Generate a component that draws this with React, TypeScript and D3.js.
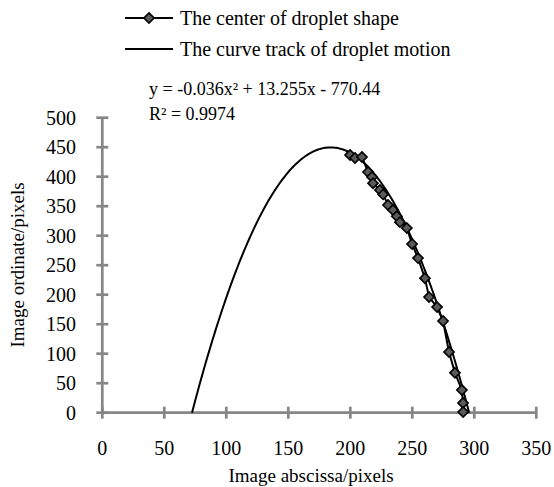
import React, { useEffect, useRef } from 'react'
import * as d3 from 'd3'

// droplet centre positions (image px)
const centerX = [199.8, 203.8, 209.4, 214.3, 217.5, 218.3, 223.9, 226.5, 230.4, 234.4, 237.5, 240, 245.6, 249.8, 254.6, 260.2, 263.5, 270, 274.8, 279.6, 284.4, 290, 290.9, 291]
const centerY = [436.8, 431.7, 433.4, 408, 399.5, 389, 377.5, 370, 352, 343.6, 333, 323, 313, 285.9, 262, 228, 196, 179, 155.4, 103, 67.6, 38.5, 16.4, 1.2]

// fitted trend: y = a x^2 + b x + c
const fitA = -0.036
const fitB = 13.255
const fitC = -770.44

const xTicks = [0, 50, 100, 150, 200, 250, 300, 350]
const yTicks = [0, 50, 100, 150, 200, 250, 300, 350, 400, 450, 500]

const legendLabels = ['The center of droplet shape', 'The curve track of droplet motion']
const equationText = 'y = -0.036x² + 13.255x - 770.44'
const r2Text = 'R² = 0.9974'

const App = () => {
  const ref = useRef<SVGSVGElement>(null)

  useEffect(() => {
    const svg = d3.select(ref.current)
    svg.selectAll('*').remove()
    const font = '"Liberation Serif", "Times New Roman", serif'

    const x = d3.scaleLinear().domain([0, 350]).range([102.3, 536.3])
    const y = d3.scaleLinear().domain([0, 500]).range([412.7, 117.7])

    const axisColor = '#868686'

    // axes
    svg.append('line').attr('x1', x(0)).attr('x2', x(350)).attr('y1', y(0)).attr('y2', y(0))
      .attr('stroke', axisColor).attr('stroke-width', 2.7)
    svg.append('line').attr('x1', x(0)).attr('x2', x(0)).attr('y1', y(0)).attr('y2', y(500))
      .attr('stroke', axisColor).attr('stroke-width', 2.7)

    svg.selectAll('.xt').data(xTicks).enter().append('line')
      .attr('x1', d => x(d)).attr('x2', d => x(d)).attr('y1', y(0) - 6).attr('y2', y(0) + 6)
      .attr('stroke', axisColor).attr('stroke-width', 2.7)
    svg.selectAll('.yt').data(yTicks).enter().append('line')
      .attr('x1', x(0) - 6).attr('x2', x(0) + 6).attr('y1', d => y(d)).attr('y2', d => y(d))
      .attr('stroke', axisColor).attr('stroke-width', 2.7)

    svg.selectAll('.xl').data(xTicks).enter().append('text')
      .attr('x', d => x(d)).attr('y', 455).attr('text-anchor', 'middle')
      .attr('font-family', font).attr('font-size', 20).text(d => d)
    svg.selectAll('.yl').data(yTicks).enter().append('text')
      .attr('x', 76).attr('y', d => y(d)).attr('dy', '0.35em').attr('text-anchor', 'end')
      .attr('font-family', font).attr('font-size', 20).text(d => d)

    svg.append('text').attr('x', 311).attr('y', 482).attr('text-anchor', 'middle')
      .attr('font-family', font).attr('font-size', 19).text('Image abscissa/pixels')
    svg.append('text').attr('transform', `translate(24,265) rotate(-90)`).attr('text-anchor', 'middle')
      .attr('font-family', font).attr('font-size', 19).text('Image ordinate/pixels')

    // fitted curve
    const disc = Math.sqrt(fitB * fitB - 4 * fitA * fitC)
    const r1 = (-fitB + disc) / (2 * fitA)
    const r2 = (-fitB - disc) / (2 * fitA)
    const curveXs = d3.range(0, 201).map(i => r1 + (r2 - r1) * i / 200)
    const line = d3.line<number>().x(d => x(d)).y(d => y(Math.max(0, fitA * d * d + fitB * d + fitC)))
    svg.append('path').attr('d', line(curveXs)).attr('fill', 'none')
      .attr('stroke', '#000').attr('stroke-width', 2)

    // measured centres
    const pts = centerX.map((cx, i) => [cx, centerY[i]] as [number, number])
    svg.append('path').attr('d', d3.line()(pts.map(p => [x(p[0]), y(p[1])]))!)
      .attr('fill', 'none').attr('stroke', '#000').attr('stroke-width', 2)
    const diamond = d3.symbol().type(d3.symbolDiamond2).size(66)
    svg.selectAll('.pt').data(pts).enter().append('path')
      .attr('d', diamond()!)
      .attr('transform', d => `translate(${x(d[0])},${y(d[1])})`)
      .attr('fill', '#5a5a5a').attr('stroke', '#000').attr('stroke-width', 1.6)

    // legend
    const lg = svg.append('g')
    legendLabels.forEach((label, i) => {
      const ly = 18 + i * 31
      lg.append('line').attr('x1', 125).attr('x2', 173).attr('y1', ly).attr('y2', ly)
        .attr('stroke', '#000').attr('stroke-width', 2)
      if (i === 0) {
        lg.append('path').attr('d', diamond()!).attr('transform', `translate(149,${ly})`)
          .attr('fill', '#5a5a5a').attr('stroke', '#000').attr('stroke-width', 1.6)
      }
      lg.append('text').attr('x', 180).attr('y', ly).attr('dy', '0.35em')
        .attr('font-family', font).attr('font-size', 20).text(label)
    })

    svg.append('text').attr('x', 149).attr('y', 95)
      .attr('font-family', font).attr('font-size', 18).text(equationText)
    svg.append('text').attr('x', 149).attr('y', 120)
      .attr('font-family', font).attr('font-size', 18).text(r2Text)
  }, [])

  return (
    <svg ref={ref} width={554} height={487} style={{ position: 'absolute', left: 0, top: 0, background: '#fff' }} />
  )
}

export default App
